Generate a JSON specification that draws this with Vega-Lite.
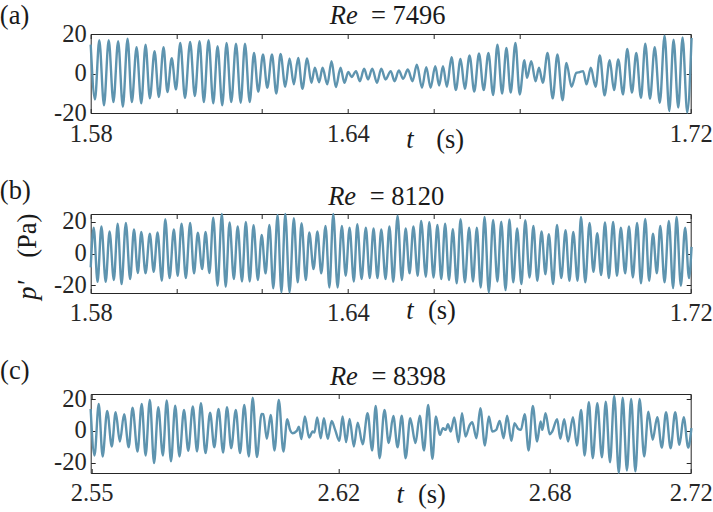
{
  "$schema": "https://vega.github.io/schema/vega-lite/v6.json",
  "autosize": {"type": "none"},
  "padding": {"left": 90.7, "top": 34, "right": 622.3, "bottom": 478},
  "background": "white",
  "bounds": "flush",
  "spacing": 101,
  "config": {
    "view": {"stroke": "#262626", "strokeWidth": 1},
    "axis": {"labelFont": "Liberation Serif", "labelFontSize": 24.5, "labelColor": "#262626", "tickColor": "#262626", "tickSize": -4.5, "domain": false, "grid": false, "labelOverlap": false, "labelFlush": false, "labelBound": false, "labelPadding": 9},
    "text": {"font": "Liberation Serif", "color": "#1a1a1a", "align": "left", "baseline": "alphabetic"},
    "line": {"color": "#5e94af", "strokeWidth": 2.4, "interpolate": "monotone", "clip": false}
  },
  "datasets": {
    "a": [
      {"t":1.5800,"p":14.6},{"t":1.5810,"p":-13.1},{"t":1.5820,"p":16.8},{"t":1.5831,"p":-16.1},{"t":1.5842,"p":16.8},{"t":1.5853,"p":-14.5},{"t":1.5864,"p":16.3},{"t":1.5875,"p":-16.8},{"t":1.5886,"p":17.6},{"t":1.5896,"p":-14.5},{"t":1.5907,"p":13.3},{"t":1.5918,"p":-15.1},{"t":1.5928,"p":14.6},{"t":1.5938,"p":-12.6},{"t":1.5949,"p":11.3},{"t":1.5959,"p":-11.9},{"t":1.5970,"p":13.3},{"t":1.5979,"p":-9.4},{"t":1.5989,"p":7.7},{"t":1.5999,"p":-8.1},{"t":1.6009,"p":15.5},{"t":1.6020,"p":-12.4},{"t":1.6032,"p":16.0},{"t":1.6043,"p":-11.4},{"t":1.6054,"p":16.3},{"t":1.6064,"p":-14.5},{"t":1.6075,"p":16.8},{"t":1.6086,"p":-15.1},{"t":1.6096,"p":13.8},{"t":1.6107,"p":-16.1},{"t":1.6117,"p":15.5},{"t":1.6128,"p":-14.5},{"t":1.6139,"p":15.1},{"t":1.6150,"p":-14.8},{"t":1.6160,"p":15.1},{"t":1.6171,"p":-14.5},{"t":1.6181,"p":10.4},{"t":1.6191,"p":-9.2},{"t":1.6202,"p":9.6},{"t":1.6212,"p":-7.2},{"t":1.6223,"p":9.6},{"t":1.6233,"p":-10.1},{"t":1.6243,"p":9.9},{"t":1.6254,"p":-6.7},{"t":1.6264,"p":7.6},{"t":1.6274,"p":-5.5},{"t":1.6284,"p":7.9},{"t":1.6294,"p":-7.7},{"t":1.6305,"p":7.6},{"t":1.6315,"p":-4.7},{"t":1.6323,"p":2.9},{"t":1.6333,"p":-4.4},{"t":1.6341,"p":2.9},{"t":1.6352,"p":-5.5},{"t":1.6362,"p":6.2},{"t":1.6372,"p":-6.9},{"t":1.6383,"p":2.9},{"t":1.6392,"p":-4.7},{"t":1.6401,"p":0.8},{"t":1.6409,"p":-1.8},{"t":1.6419,"p":1.2},{"t":1.6428,"p":-3.9},{"t":1.6438,"p":2.4},{"t":1.6447,"p":-3.0},{"t":1.6457,"p":2.4},{"t":1.6468,"p":-4.7},{"t":1.6478,"p":2.4},{"t":1.6488,"p":-3.0},{"t":1.6500,"p":1.2},{"t":1.6509,"p":-3.9},{"t":1.6519,"p":1.5},{"t":1.6529,"p":-2.7},{"t":1.6540,"p":2.0},{"t":1.6551,"p":-3.9},{"t":1.6561,"p":4.5},{"t":1.6573,"p":-7.2},{"t":1.6583,"p":3.2},{"t":1.6593,"p":-7.2},{"t":1.6604,"p":3.7},{"t":1.6613,"p":-6.1},{"t":1.6622,"p":3.7},{"t":1.6631,"p":-6.7},{"t":1.6642,"p":8.2},{"t":1.6652,"p":-8.4},{"t":1.6663,"p":7.4},{"t":1.6673,"p":-7.7},{"t":1.6684,"p":9.2},{"t":1.6695,"p":-9.2},{"t":1.6706,"p":10.1},{"t":1.6717,"p":-8.4},{"t":1.6728,"p":10.4},{"t":1.6739,"p":-10.9},{"t":1.6749,"p":14.6},{"t":1.6760,"p":-10.1},{"t":1.6770,"p":12.9},{"t":1.6780,"p":-9.7},{"t":1.6791,"p":15.5},{"t":1.6801,"p":-10.6},{"t":1.6812,"p":6.7},{"t":1.6818,"p":-2.2},{"t":1.6828,"p":6.2},{"t":1.6838,"p":-3.9},{"t":1.6846,"p":2.9},{"t":1.6855,"p":-4.7},{"t":1.6866,"p":10.4},{"t":1.6878,"p":-12.6},{"t":1.6889,"p":9.6},{"t":1.6901,"p":-13.6},{"t":1.6910,"p":5.4},{"t":1.6922,"p":-6.7},{"t":1.6933,"p":0.3},{"t":1.6941,"p":0.7},{"t":1.6949,"p":1.2},{"t":1.6957,"p":-5.5},{"t":1.6967,"p":2.9},{"t":1.6978,"p":-6.7},{"t":1.6988,"p":9.2},{"t":1.6999,"p":-11.1},{"t":1.7011,"p":6.7},{"t":1.7021,"p":-8.4},{"t":1.7031,"p":7.1},{"t":1.7042,"p":-10.6},{"t":1.7052,"p":12.4},{"t":1.7063,"p":-9.7},{"t":1.7073,"p":10.4},{"t":1.7084,"p":-12.3},{"t":1.7094,"p":15.1},{"t":1.7105,"p":-12.8},{"t":1.7116,"p":13.3},{"t":1.7128,"p":-14.8},{"t":1.7139,"p":19.2},{"t":1.7150,"p":-19.0},{"t":1.7160,"p":17.1},{"t":1.7171,"p":-17.3},{"t":1.7181,"p":18.3},{"t":1.7192,"p":-19.8},{"t":1.7202,"p":18.0}
    ],
    "b": [
      {"t":1.5800,"p":-8.8},{"t":1.5807,"p":16.4},{"t":1.5816,"p":-17.9},{"t":1.5825,"p":17.1},{"t":1.5835,"p":-17.9},{"t":1.5844,"p":13.9},{"t":1.5854,"p":-16.8},{"t":1.5863,"p":18.9},{"t":1.5872,"p":-19.4},{"t":1.5882,"p":19.4},{"t":1.5892,"p":-16.2},{"t":1.5901,"p":15.2},{"t":1.5910,"p":-12.4},{"t":1.5918,"p":13.7},{"t":1.5928,"p":-12.6},{"t":1.5938,"p":12.6},{"t":1.5947,"p":-11.6},{"t":1.5956,"p":13.3},{"t":1.5966,"p":-17.3},{"t":1.5974,"p":21.7},{"t":1.5984,"p":-15.6},{"t":1.5994,"p":15.2},{"t":1.6003,"p":-14.1},{"t":1.6012,"p":18.9},{"t":1.6022,"p":-15.6},{"t":1.6032,"p":19.4},{"t":1.6041,"p":-12.6},{"t":1.6050,"p":13.1},{"t":1.6060,"p":-9.9},{"t":1.6068,"p":13.7},{"t":1.6077,"p":-12.4},{"t":1.6086,"p":22.7},{"t":1.6096,"p":-20.4},{"t":1.6106,"p":25.0},{"t":1.6115,"p":-21.1},{"t":1.6124,"p":19.6},{"t":1.6134,"p":-16.2},{"t":1.6143,"p":17.1},{"t":1.6153,"p":-17.7},{"t":1.6162,"p":20.0},{"t":1.6171,"p":-17.7},{"t":1.6180,"p":17.9},{"t":1.6190,"p":-16.8},{"t":1.6199,"p":11.8},{"t":1.6208,"p":-12.6},{"t":1.6217,"p":18.1},{"t":1.6226,"p":-22.1},{"t":1.6236,"p":24.4},{"t":1.6245,"p":-24.6},{"t":1.6254,"p":25.0},{"t":1.6264,"p":-24.6},{"t":1.6274,"p":22.3},{"t":1.6283,"p":-18.3},{"t":1.6292,"p":19.2},{"t":1.6302,"p":-16.8},{"t":1.6310,"p":13.3},{"t":1.6320,"p":-9.9},{"t":1.6329,"p":13.9},{"t":1.6338,"p":-12.6},{"t":1.6348,"p":17.5},{"t":1.6357,"p":-21.5},{"t":1.6366,"p":25.0},{"t":1.6376,"p":-21.5},{"t":1.6386,"p":17.5},{"t":1.6395,"p":-14.1},{"t":1.6404,"p":16.4},{"t":1.6414,"p":-17.7},{"t":1.6422,"p":18.5},{"t":1.6432,"p":-16.2},{"t":1.6442,"p":16.4},{"t":1.6451,"p":-15.6},{"t":1.6460,"p":15.8},{"t":1.6469,"p":-15.6},{"t":1.6478,"p":15.2},{"t":1.6488,"p":-16.2},{"t":1.6497,"p":17.1},{"t":1.6506,"p":-17.9},{"t":1.6516,"p":24.0},{"t":1.6526,"p":-16.8},{"t":1.6535,"p":15.8},{"t":1.6544,"p":-12.6},{"t":1.6553,"p":17.1},{"t":1.6563,"p":-14.1},{"t":1.6571,"p":20.6},{"t":1.6582,"p":-14.7},{"t":1.6590,"p":19.8},{"t":1.6600,"p":-15.2},{"t":1.6609,"p":18.1},{"t":1.6618,"p":-16.2},{"t":1.6627,"p":18.9},{"t":1.6636,"p":-16.8},{"t":1.6645,"p":15.4},{"t":1.6654,"p":-18.9},{"t":1.6663,"p":21.7},{"t":1.6673,"p":-18.3},{"t":1.6683,"p":16.4},{"t":1.6692,"p":-17.7},{"t":1.6701,"p":16.4},{"t":1.6710,"p":-21.5},{"t":1.6719,"p":23.2},{"t":1.6729,"p":-24.6},{"t":1.6739,"p":21.3},{"t":1.6749,"p":-17.7},{"t":1.6758,"p":20.2},{"t":1.6768,"p":-23.2},{"t":1.6777,"p":21.5},{"t":1.6786,"p":-18.3},{"t":1.6795,"p":15.8},{"t":1.6805,"p":-19.4},{"t":1.6814,"p":21.1},{"t":1.6824,"p":-15.2},{"t":1.6833,"p":17.5},{"t":1.6842,"p":-17.3},{"t":1.6852,"p":13.9},{"t":1.6861,"p":-13.1},{"t":1.6869,"p":12.2},{"t":1.6879,"p":-19.4},{"t":1.6888,"p":18.1},{"t":1.6898,"p":-15.6},{"t":1.6908,"p":14.7},{"t":1.6917,"p":-17.3},{"t":1.6926,"p":13.7},{"t":1.6936,"p":-17.3},{"t":1.6944,"p":23.2},{"t":1.6954,"p":-18.3},{"t":1.6964,"p":19.4},{"t":1.6973,"p":-11.6},{"t":1.6982,"p":12.8},{"t":1.6991,"p":-13.7},{"t":1.7000,"p":19.6},{"t":1.7009,"p":-15.6},{"t":1.7019,"p":20.0},{"t":1.7028,"p":-14.1},{"t":1.7037,"p":16.4},{"t":1.7047,"p":-12.6},{"t":1.7056,"p":17.1},{"t":1.7065,"p":-15.2},{"t":1.7075,"p":19.4},{"t":1.7084,"p":-18.9},{"t":1.7094,"p":21.9},{"t":1.7103,"p":-17.3},{"t":1.7112,"p":12.6},{"t":1.7121,"p":-12.6},{"t":1.7129,"p":17.5},{"t":1.7139,"p":-18.3},{"t":1.7149,"p":20.6},{"t":1.7159,"p":-21.9},{"t":1.7167,"p":23.2},{"t":1.7177,"p":-20.4},{"t":1.7187,"p":16.4},{"t":1.7196,"p":-15.6},{"t":1.7202,"p":4.2}
    ],
    "c": [
      {"t":2.5497,"p":13.8},{"t":2.5508,"p":-15.5},{"t":2.5520,"p":16.9},{"t":2.5531,"p":-16.1},{"t":2.5544,"p":12.6},{"t":2.5557,"p":-9.8},{"t":2.5568,"p":11.7},{"t":2.5580,"p":-6.7},{"t":2.5592,"p":10.5},{"t":2.5605,"p":-10.3},{"t":2.5616,"p":14.6},{"t":2.5630,"p":-13.0},{"t":2.5642,"p":16.9},{"t":2.5653,"p":-15.5},{"t":2.5665,"p":19.5},{"t":2.5677,"p":-20.3},{"t":2.5689,"p":14.9},{"t":2.5702,"p":-15.5},{"t":2.5713,"p":19.2},{"t":2.5725,"p":-19.2},{"t":2.5737,"p":15.9},{"t":2.5749,"p":-16.1},{"t":2.5762,"p":13.2},{"t":2.5774,"p":-12.6},{"t":2.5787,"p":15.3},{"t":2.5799,"p":-13.0},{"t":2.5810,"p":17.4},{"t":2.5823,"p":-14.0},{"t":2.5836,"p":11.5},{"t":2.5848,"p":-10.3},{"t":2.5860,"p":13.8},{"t":2.5873,"p":-13.6},{"t":2.5884,"p":14.9},{"t":2.5896,"p":-10.9},{"t":2.5909,"p":13.2},{"t":2.5921,"p":-14.0},{"t":2.5933,"p":16.3},{"t":2.5946,"p":-16.1},{"t":2.5957,"p":20.9},{"t":2.5969,"p":-16.5},{"t":2.5982,"p":10.7},{"t":2.5987,"p":10.5},{"t":2.5997,"p":-5.0},{"t":2.6008,"p":10.0},{"t":2.6019,"p":-12.3},{"t":2.6031,"p":19.5},{"t":2.6044,"p":-13.0},{"t":2.6055,"p":7.3},{"t":2.6063,"p":0.6},{"t":2.6070,"p":-1.5},{"t":2.6082,"p":0},{"t":2.6088,"p":2.7},{"t":2.6095,"p":-5.2},{"t":2.6105,"p":9.0},{"t":2.6117,"p":-4.2},{"t":2.6127,"p":-0.4},{"t":2.6132,"p":-1.0},{"t":2.6140,"p":8.4},{"t":2.6150,"p":-4.6},{"t":2.6159,"p":7.9},{"t":2.6170,"p":-5.0},{"t":2.6181,"p":6.3},{"t":2.6191,"p":0.6},{"t":2.6203,"p":-6.3},{"t":2.6212,"p":9.0},{"t":2.6222,"p":-7.1},{"t":2.6232,"p":7.5},{"t":2.6244,"p":-9.8},{"t":2.6255,"p":5.2},{"t":2.6269,"p":-8.4},{"t":2.6283,"p":11.1},{"t":2.6296,"p":-12.3},{"t":2.6306,"p":15.7},{"t":2.6317,"p":-17.2},{"t":2.6331,"p":13.2},{"t":2.6343,"p":-7.7},{"t":2.6356,"p":9.4},{"t":2.6368,"p":-10.3},{"t":2.6380,"p":9.6},{"t":2.6391,"p":-17.2},{"t":2.6404,"p":7.9},{"t":2.6419,"p":-7.7},{"t":2.6431,"p":9.6},{"t":2.6443,"p":-12.3},{"t":2.6455,"p":16.3},{"t":2.6467,"p":-17.6},{"t":2.6477,"p":9.0},{"t":2.6488,"p":-2.5},{"t":2.6497,"p":1.7},{"t":2.6505,"p":0.6},{"t":2.6511,"p":4.2},{"t":2.6519,"p":-0.4},{"t":2.6529,"p":8.4},{"t":2.6541,"p":-7.1},{"t":2.6551,"p":11.1},{"t":2.6561,"p":-3.6},{"t":2.6572,"p":3.3},{"t":2.6580,"p":5.4},{"t":2.6592,"p":-4.6},{"t":2.6603,"p":14.2},{"t":2.6616,"p":-9.2},{"t":2.6627,"p":9.0},{"t":2.6637,"p":-0.4},{"t":2.6648,"p":0.6},{"t":2.6658,"p":6.3},{"t":2.6669,"p":-4.6},{"t":2.6679,"p":9.6},{"t":2.6691,"p":-6.3},{"t":2.6700,"p":4.8},{"t":2.6710,"p":1.3},{"t":2.6718,"p":0.6},{"t":2.6729,"p":10.5},{"t":2.6740,"p":-12.3},{"t":2.6752,"p":15.7},{"t":2.6764,"p":-6.7},{"t":2.6774,"p":5.9},{"t":2.6779,"p":0.6},{"t":2.6788,"p":11.1},{"t":2.6800,"p":-2.1},{"t":2.6807,"p":-0.4},{"t":2.6821,"p":7.3},{"t":2.6830,"p":-5.0},{"t":2.6841,"p":7.3},{"t":2.6852,"p":-6.7},{"t":2.6866,"p":8.6},{"t":2.6877,"p":-9.2},{"t":2.6889,"p":13.2},{"t":2.6899,"p":-15.5},{"t":2.6911,"p":18.0},{"t":2.6922,"p":-17.2},{"t":2.6935,"p":17.4},{"t":2.6948,"p":-16.7},{"t":2.6959,"p":18.4},{"t":2.6971,"p":-19.7},{"t":2.6983,"p":22.0},{"t":2.6996,"p":-26.4},{"t":2.7007,"p":20.9},{"t":2.7019,"p":-24.9},{"t":2.7031,"p":20.1},{"t":2.7043,"p":-25.5},{"t":2.7055,"p":20.1},{"t":2.7068,"p":-16.1},{"t":2.7080,"p":12.1},{"t":2.7092,"p":-5.6},{"t":2.7105,"p":8.6},{"t":2.7118,"p":-10.5},{"t":2.7130,"p":11.7},{"t":2.7143,"p":-10.9},{"t":2.7156,"p":11.7},{"t":2.7168,"p":-8.8},{"t":2.7180,"p":8.6},{"t":2.7193,"p":-10.5},{"t":2.7202,"p":1.7}
    ]
  },
  "vconcat": [
    {
      "width": 600,
      "height": 79,
      "resolve": {"axis": {"x": "independent", "y": "independent"}},
      "layer": [
        {
          "data": {"name": "a"},
          "mark": "line",
          "encoding": {
            "x": {"field": "t", "type": "quantitative", "title": null, "scale": {"domain": [1.58, 1.72], "nice": false, "zero": false}, "axis": {"orient": "bottom", "values": [1.58, 1.6, 1.62, 1.64, 1.66, 1.68, 1.72], "labelExpr": "indexof(['1.58','1.64','1.72'],format(datum.value,'.2f'))>=0?format(datum.value,'.2f'):''", "labelPadding": 14}},
            "y": {"field": "p", "type": "quantitative", "title": null, "scale": {"domain": [-20, 20], "nice": false, "zero": false}, "axis": {"orient": "left", "values": [-20, 0, 20], "labelExpr": "datum.value"}}
          }
        },
        {
          "data": {"name": "a"},
          "mark": {"type": "line", "opacity": 0},
          "encoding": {
            "x": {"field": "t", "type": "quantitative", "title": null, "axis": {"orient": "top", "values": [1.58, 1.6, 1.62, 1.64, 1.66, 1.68, 1.72], "labels": false}},
            "y": {"field": "p", "type": "quantitative", "title": null, "axis": {"orient": "right", "values": [-20, 0, 20], "labels": false}}
          }
        },
        {
          "data": {"values": [{"t": 1.6358, "p": 25.3, "label": "Re"}, {"t": 1.6536, "p": -37.6, "label": "t"}]},
          "mark": {"type": "text", "fontStyle": "italic", "fontSize": 26.5},
          "encoding": {"x": {"field": "t", "type": "quantitative", "axis": null}, "y": {"field": "p", "type": "quantitative", "axis": null}, "text": {"field": "label"}}
        },
        {
          "data": {"values": [{"t": 1.5588, "p": 25.3, "label": "(a)"}, {"t": 1.6454, "p": 25.3, "label": "= 7496"}, {"t": 1.6606, "p": -37.6, "label": "(s)"}]},
          "mark": {"type": "text", "fontSize": 26.5},
          "encoding": {"x": {"field": "t", "type": "quantitative", "axis": null}, "y": {"field": "p", "type": "quantitative", "axis": null}, "text": {"field": "label"}}
        }
      ]
    },
    {
      "width": 600,
      "height": 79,
      "resolve": {"axis": {"x": "independent", "y": "independent"}},
      "layer": [
        {
          "data": {"name": "b"},
          "mark": "line",
          "encoding": {
            "x": {"field": "t", "type": "quantitative", "title": null, "scale": {"domain": [1.58, 1.72], "nice": false, "zero": false}, "axis": {"orient": "bottom", "values": [1.58, 1.6, 1.62, 1.64, 1.66, 1.68, 1.72], "labelExpr": "indexof(['1.58','1.64','1.72'],format(datum.value,'.2f'))>=0?format(datum.value,'.2f'):''", "labelPadding": 13}},
            "y": {"field": "p", "type": "quantitative", "title": null, "scale": {"domain": [-25, 25], "nice": false, "zero": false}, "axis": {"orient": "left", "values": [-20, 0, 20], "labelExpr": "datum.value"}}
          }
        },
        {
          "data": {"name": "b"},
          "mark": {"type": "line", "opacity": 0},
          "encoding": {
            "x": {"field": "t", "type": "quantitative", "title": null, "axis": {"orient": "top", "values": [1.58, 1.6, 1.62, 1.64, 1.66, 1.68, 1.72], "labels": false}},
            "y": {"field": "p", "type": "quantitative", "title": null, "axis": {"orient": "right", "values": [-20, 0, 20], "labels": false}}
          }
        },
        {
          "data": {"values": [{"t": 1.6354, "p": 30.4, "label": "Re"}, {"t": 1.6536, "p": -41.3, "label": "t"}]},
          "mark": {"type": "text", "fontStyle": "italic", "fontSize": 26.5},
          "encoding": {"x": {"field": "t", "type": "quantitative", "axis": null}, "y": {"field": "p", "type": "quantitative", "axis": null}, "text": {"field": "label"}}
        },
        {
          "data": {"values": [{"t": 1.5588, "p": 34.7, "label": "(b)"}, {"t": 1.6451, "p": 30.4, "label": "= 8120"}, {"t": 1.6587, "p": -41.3, "label": "(s)"}]},
          "mark": {"type": "text", "fontSize": 26.5},
          "encoding": {"x": {"field": "t", "type": "quantitative", "axis": null}, "y": {"field": "p", "type": "quantitative", "axis": null}, "text": {"field": "label"}}
        },
        {
          "data": {"values": [{"t": 1.5672, "p": -29.2, "label": "p′"}]},
          "mark": {"type": "text", "fontStyle": "italic", "fontSize": 26.5, "angle": 270},
          "encoding": {"x": {"field": "t", "type": "quantitative", "axis": null}, "y": {"field": "p", "type": "quantitative", "axis": null}, "text": {"field": "label"}}
        },
        {
          "data": {"values": [{"t": 1.5672, "p": -2.7, "label": "(Pa)"}]},
          "mark": {"type": "text", "fontSize": 26.5, "angle": 270},
          "encoding": {"x": {"field": "t", "type": "quantitative", "axis": null}, "y": {"field": "p", "type": "quantitative", "axis": null}, "text": {"field": "label"}}
        }
      ]
    },
    {
      "width": 600,
      "height": 79,
      "resolve": {"axis": {"x": "independent", "y": "independent"}},
      "layer": [
        {
          "data": {"name": "c"},
          "mark": "line",
          "encoding": {
            "x": {"field": "t", "type": "quantitative", "title": null, "scale": {"domain": [2.54972, 2.72], "nice": false, "zero": false}, "axis": {"orient": "bottom", "values": [2.55, 2.62, 2.68, 2.72], "format": ".2f", "labelPadding": 13}},
            "y": {"field": "p", "type": "quantitative", "title": null, "scale": {"domain": [-26.5, 23.2], "nice": false, "zero": false}, "axis": {"orient": "left", "values": [-20, 0, 20], "labelExpr": "datum.value"}}
          }
        },
        {
          "data": {"name": "c"},
          "mark": {"type": "line", "opacity": 0},
          "encoding": {
            "x": {"field": "t", "type": "quantitative", "title": null, "axis": {"orient": "top", "values": [2.55, 2.62, 2.68, 2.72], "labels": false}},
            "y": {"field": "p", "type": "quantitative", "title": null, "axis": {"orient": "right", "values": [-20, 0, 20], "labels": false}}
          }
        },
        {
          "data": {"values": [{"t": 2.6176, "p": 29, "label": "Re"}, {"t": 2.6365, "p": -45.6, "label": "t"}]},
          "mark": {"type": "text", "fontStyle": "italic", "fontSize": 26.5},
          "encoding": {"x": {"field": "t", "type": "quantitative", "axis": null}, "y": {"field": "p", "type": "quantitative", "axis": null}, "text": {"field": "label"}}
        },
        {
          "data": {"values": [{"t": 2.5240, "p": 32.8, "label": "(c)"}, {"t": 2.6294, "p": 29, "label": "= 8398"}, {"t": 2.6426, "p": -45.6, "label": "(s)"}]},
          "mark": {"type": "text", "fontSize": 26.5},
          "encoding": {"x": {"field": "t", "type": "quantitative", "axis": null}, "y": {"field": "p", "type": "quantitative", "axis": null}, "text": {"field": "label"}}
        }
      ]
    }
  ]
}
